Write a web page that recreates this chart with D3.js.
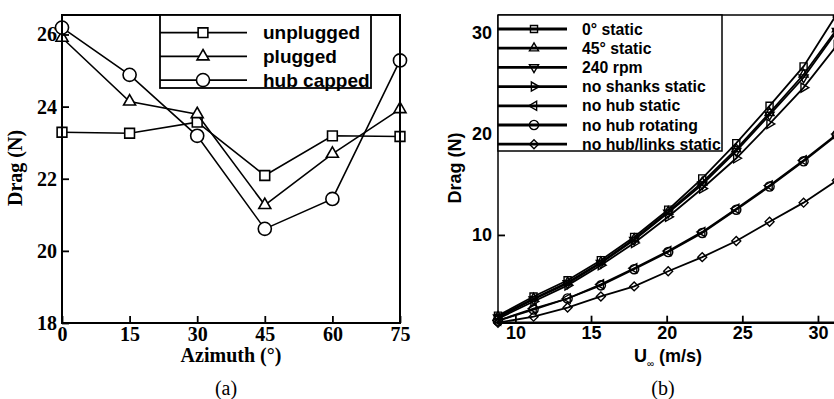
<!DOCTYPE html>
<html>
<head>
<meta charset="utf-8">
<script src="https://cdn.jsdelivr.net/npm/d3@7"></script>
<style>
  body { margin: 0; background: #fff; }
  svg { display: block; }
</style>
</head>
<body>
<div class="chart"></div>
<script>
// panel (a)
var azimuth = [0, 15, 30, 45, 60, 75];
var unplugged = [23.29, 23.26, 23.57, 22.09, 23.19, 23.17];
var plugged = [25.91, 24.14, 23.79, 21.27, 22.69, 23.93];
var hubCapped = [26.19, 24.88, 23.19, 20.61, 21.44, 25.28];
var azimuthTicks = [0, 15, 30, 45, 60, 75];
var dragTicksA = [18, 20, 22, 24, 26];
var legendA = ["unplugged", "plugged", "hub capped"];

// panel (b)
var speed = [8.85, 11.2, 13.45, 15.65, 17.85, 20.1, 22.35, 24.6, 26.8, 29.05, 31.25];
var static0 = [2.0, 3.9, 5.5, 7.5, 9.8, 12.5, 15.6, 19.1, 22.8, 26.7, 31.9];
var static45 = [1.9, 3.7, 5.3, 7.3, 9.6, 12.3, 15.2, 18.5, 22.1, 25.9, 30.4];
var rpm240 = [1.8, 3.6, 5.2, 7.2, 9.5, 12.2, 15.0, 18.3, 21.9, 25.6, 30.2];
var noShanks = [1.7, 3.4, 5.0, 7.0, 9.2, 11.8, 14.6, 17.6, 21.0, 24.6, 28.8];
var noHubStatic = [1.5, 2.7, 3.7, 5.1, 6.7, 8.4, 10.3, 12.6, 14.9, 17.4, 20.0];
var noHubRotating = [1.5, 2.6, 3.7, 5.0, 6.6, 8.3, 10.2, 12.5, 14.8, 17.3, 19.9];
var noHubLinks = [1.3, 1.9, 2.8, 3.9, 4.9, 6.4, 7.8, 9.4, 11.3, 13.2, 15.4];
var speedTicks = [10, 15, 20, 25, 30];
var dragTicksB = [10, 20, 30];
var legendB = ["0\u00b0 static", "45\u00b0 static", "240 rpm", "no shanks static",
	"no hub static", "no hub rotating", "no hub/links static"];

var W = 834, H = 399;
var svg = d3.select(".chart").append("svg").attr("width", W).attr("height", H);

function symbolPath(type, size) {
	var t = type == "circle" ? d3.symbolCircle : type == "square" || type == "diamond" ? d3.symbolSquare : d3.symbolTriangle;
	return d3.symbol().type(t).size(size)();
}
function symbolRot(type) {
	return type == "diamond" ? 45 : type == "down" ? 180 : type == "right" ? 90 : type == "left" ? -90 : 0;
}

// ---------- panel (a) ----------
var serif = "'Liberation Serif', 'Times New Roman', serif";
var xA = d3.scaleLinear().domain([0, 75]).range([62, 400]);
var yA = d3.scaleLinear().domain([18, 26.54]).range([323, 15]);

var gA = svg.append("g");

var seriesA = [
	{name: legendA[0], values: unplugged, sym: "square", size: 95},
	{name: legendA[1], values: plugged, sym: "up", size: 62},
	{name: legendA[2], values: hubCapped, sym: "circle", size: 135}
];

var lineA = d3.line().x(d => xA(d[0])).y(d => yA(d[1]));

seriesA.forEach(function(s) {
	var pts = azimuth.map((a, i) => [a, s.values[i]]);
	gA.append("path").attr("d", lineA(pts))
		.style("fill", "none").style("stroke", "#000").style("stroke-width", 1.6);
	gA.selectAll(null).data(pts).join("path")
		.attr("d", symbolPath(s.sym, s.size))
		.attr("transform", d => "translate(" + xA(d[0]) + "," + yA(d[1]) + ") rotate(" + symbolRot(s.sym) + ")")
		.style("fill", "#fff").style("stroke", "#000").style("stroke-width", 1.6);
});

// frame
gA.append("rect").attr("x", 62).attr("y", 15).attr("width", 338).attr("height", 308)
	.style("fill", "none").style("stroke", "#000").style("stroke-width", 2);

var xAxisA = d3.axisBottom(xA).tickValues(azimuthTicks).tickSize(-7).tickPadding(4);
var yAxisA = d3.axisLeft(yA).tickValues(dragTicksA).tickSize(-7).tickPadding(5);

gA.append("g").attr("transform", "translate(0,323)").call(xAxisA)
	.call(g => g.select(".domain").remove());
gA.append("g").attr("transform", "translate(62,0)").call(yAxisA)
	.call(g => g.select(".domain").remove());

gA.selectAll(".tick line").style("stroke", "#000").style("stroke-width", 1.8);
gA.selectAll(".tick text").style("font-family", serif).style("font-weight", "bold")
	.style("font-size", "20px").style("fill", "#000");

gA.append("text").attr("x", 231).attr("y", 362).attr("text-anchor", "middle")
	.style("font-family", serif).style("font-weight", "bold").style("font-size", "20px")
	.text("Azimuth (\u00b0)");
gA.append("text").attr("transform", "translate(22,168) rotate(-90)").attr("text-anchor", "middle")
	.style("font-family", serif).style("font-weight", "bold").style("font-size", "20px")
	.text("Drag (N)");
gA.append("text").attr("x", 226).attr("y", 395).attr("text-anchor", "middle")
	.style("font-family", serif).style("font-size", "20px").text("(a)");

// legend (a)
var legA = gA.append("g");
legA.append("rect").attr("x", 160).attr("y", 15).attr("width", 211).attr("height", 73)
	.style("fill", "#fff").style("stroke", "#000").style("stroke-width", 1.8);
seriesA.forEach(function(s, i) {
	var y = 32.7 + i * 23.7;
	legA.append("line").attr("x1", 160).attr("x2", 247).attr("y1", y).attr("y2", y)
		.style("stroke", "#000").style("stroke-width", 1.8);
	legA.append("path").attr("d", symbolPath(s.sym, s.size))
		.attr("transform", "translate(203," + y + ") rotate(" + symbolRot(s.sym) + ")")
		.style("fill", "#fff").style("stroke", "#000").style("stroke-width", 1.6);
	legA.append("text").attr("x", 263).attr("y", y).attr("dy", "0.35em")
		.style("font-family", "'Liberation Sans', Arial, sans-serif").style("font-weight", "bold")
		.style("font-size", "19px").text(s.name);
});

// ---------- panel (b) ----------
var sans = "'Liberation Sans', Arial, sans-serif";
var xB = d3.scaleLinear().domain([8.85, 31.06]).range([498, 834]);
var yB = d3.scaleLinear().domain([1.3, 31.8]).range([322.7, 15]);

var gB = svg.append("g");
svg.append("defs").append("clipPath").attr("id", "clipB")
	.append("rect").attr("x", 492).attr("y", 15).attr("width", 360).attr("height", 314);

var seriesB = [
	{name: legendB[0], values: static0, sym: "square", size: 50},
	{name: legendB[1], values: static45, sym: "up", size: 36},
	{name: legendB[2], values: rpm240, sym: "down", size: 36},
	{name: legendB[3], values: noShanks, sym: "right", size: 36},
	{name: legendB[4], values: noHubStatic, sym: "left", size: 36},
	{name: legendB[5], values: noHubRotating, sym: "circle", size: 66},
	{name: legendB[6], values: noHubLinks, sym: "diamond", size: 40}
];

var lineB = d3.line().x(d => xB(d[0])).y(d => yB(d[1]));
var plotB = gB.append("g").attr("clip-path", "url(#clipB)");

seriesB.forEach(function(s) {
	var pts = speed.map((v, i) => [v, s.values[i]]);
	plotB.append("path").attr("d", lineB(pts))
		.style("fill", "none").style("stroke", "#000").style("stroke-width", 1.8);
	plotB.selectAll(null).data(pts).join("path")
		.attr("d", symbolPath(s.sym, s.size))
		.attr("transform", d => "translate(" + xB(d[0]) + "," + yB(d[1]) + ") rotate(" + symbolRot(s.sym) + ")")
		.style("fill", "none").style("stroke", "#000").style("stroke-width", 1.4);
});

// axes lines
gB.append("line").attr("x1", 498).attr("x2", 834).attr("y1", 15).attr("y2", 15)
	.style("stroke", "#000").style("stroke-width", 1.5);
gB.append("line").attr("x1", 498).attr("x2", 498).attr("y1", 15).attr("y2", 323)
	.style("stroke", "#000").style("stroke-width", 1.5);
gB.append("line").attr("x1", 497).attr("x2", 834).attr("y1", 322.7).attr("y2", 322.7)
	.style("stroke", "#000").style("stroke-width", 2.5);

var xAxisB = d3.axisBottom(xB).tickValues(speedTicks).tickSize(-7).tickPadding(4);
var yAxisB = d3.axisLeft(yB).tickValues(dragTicksB).tickSize(-7).tickPadding(6);

gB.append("g").attr("transform", "translate(0,322.7)").call(xAxisB)
	.call(g => g.select(".domain").remove());
gB.append("g").attr("transform", "translate(498,0)").call(yAxisB)
	.call(g => g.select(".domain").remove());

gB.selectAll(".tick line").style("stroke", "#000").style("stroke-width", 1.8);
gB.selectAll(".tick text").style("font-family", sans).style("font-weight", "bold")
	.style("font-size", "18px").style("fill", "#000");

var xlab = gB.append("text").attr("x", 668).attr("y", 362).attr("text-anchor", "middle")
	.style("font-family", sans).style("font-weight", "bold").style("font-size", "18px");
xlab.append("tspan").text("U");
xlab.append("tspan").attr("dy", 5).style("font-size", "10px").style("font-weight", "normal").text("\u221e");
xlab.append("tspan").attr("dy", -5).text(" (m/s)");

gB.append("text").attr("transform", "translate(461,168) rotate(-90)").attr("text-anchor", "middle")
	.style("font-family", sans).style("font-weight", "bold").style("font-size", "18px")
	.text("Drag (N)");
gB.append("text").attr("x", 663).attr("y", 395).attr("text-anchor", "middle")
	.style("font-family", serif).style("font-size", "20px").text("(b)");

// legend (b)
var legB = gB.append("g");
legB.append("rect").attr("x", 498).attr("y", 15).attr("width", 224).attr("height", 136)
	.style("fill", "#fff").style("stroke", "#000").style("stroke-width", 1.5);
seriesB.forEach(function(s, i) {
	var y = 29 + i * 19.2;
	legB.append("line").attr("x1", 498).attr("x2", 567).attr("y1", y).attr("y2", y)
		.style("stroke", "#000").style("stroke-width", 2.8);
	legB.append("path").attr("d", symbolPath(s.sym, s.size))
		.attr("transform", "translate(534," + y + ") rotate(" + symbolRot(s.sym) + ")")
		.style("fill", "none").style("stroke", "#000").style("stroke-width", 1.4);
	legB.append("text").attr("x", 582).attr("y", y).attr("dy", "0.35em")
		.style("font-family", sans).style("font-weight", "bold")
		.style("font-size", "15.8px").text(s.name);
});
</script>
</body>
</html>
